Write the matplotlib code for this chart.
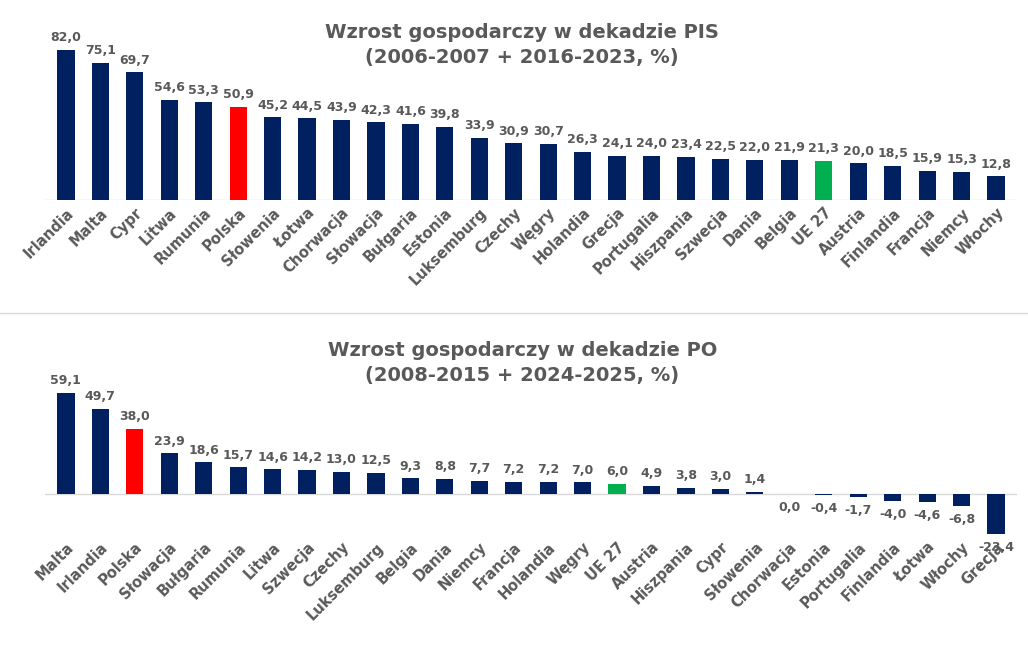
import matplotlib
matplotlib.use("Agg")
import matplotlib.pyplot as plt

top_cats = ["Irlandia","Malta","Cypr","Litwa","Rumunia","Polska","Słowenia","Łotwa","Chorwacja","Słowacja","Bułgaria","Estonia","Luksemburg","Czechy","Węgry","Holandia","Grecja","Portugalia","Hiszpania","Szwecja","Dania","Belgia","UE 27","Austria","Finlandia","Francja","Niemcy","Włochy"]
top_vals = [82.0,75.1,69.7,54.6,53.3,50.9,45.2,44.5,43.9,42.3,41.6,39.8,33.9,30.9,30.7,26.3,24.1,24.0,23.4,22.5,22.0,21.9,21.3,20.0,18.5,15.9,15.3,12.8]
bot_cats = ["Malta","Irlandia","Polska","Słowacja","Bułgaria","Rumunia","Litwa","Szwecja","Czechy","Luksemburg","Belgia","Dania","Niemcy","Francja","Holandia","Węgry","UE 27","Austria","Hiszpania","Cypr","Słowenia","Chorwacja","Estonia","Portugalia","Finlandia","Łotwa","Włochy","Grecja"]
bot_vals = [59.1,49.7,38.0,23.9,18.6,15.7,14.6,14.2,13.0,12.5,9.3,8.8,7.7,7.2,7.2,7.0,6.0,4.9,3.8,3.0,1.4,-0.02,-0.4,-1.7,-4.0,-4.6,-6.8,-23.4]

NAVY = "#002060"; RED = "#FF0000"; GREEN = "#00B050"; GRAY = "#595959"

def color(c):
    return RED if c == "Polska" else GREEN if c == "UE 27" else NAVY

def fmt(v):
    return f"{v:.1f}".replace(".", ",").replace("-0,0", "0,0")

fig = plt.figure(figsize=(10.28, 6.57), dpi=100)

def panel(rect, cats, vals, ylim):
    ax = fig.add_axes(rect)
    x = range(len(cats))
    ax.bar(x, vals, width=0.5, color=[color(c) for c in cats], zorder=2)
    ax.axhline(0, color="#D9D9D9", lw=1, zorder=1)
    ax.set_xlim(-0.6, len(cats) - 0.4)
    ax.set_ylim(*ylim)
    for xi, v in zip(x, vals):
        if v >= 0:
            ax.annotate(fmt(v), (xi, v), xytext=(0, 4), textcoords="offset points",
                        ha="center", va="bottom", fontsize=9, fontweight="bold", color=GRAY)
        else:
            ax.annotate(fmt(v), (xi, v), xytext=(0, -5), textcoords="offset points",
                        ha="center", va="top", fontsize=9, fontweight="bold", color=GRAY)
    ax.set_xticks(list(x))
    ax.set_xticklabels(cats, rotation=45, ha="right", rotation_mode="anchor",
                       fontsize=10.5, fontweight="bold", color=GRAY)
    ax.tick_params(axis="x", length=0, pad=4)
    ax.set_yticks([])
    for s in ax.spines.values():
        s.set_visible(False)
    return ax

panel([0.044, 0.696, 0.945, 0.228], top_cats, top_vals, (0, 82.0))
panel([0.044, 0.187, 0.945, 0.215], bot_cats, bot_vals, (-23.4, 59.1))

fig.text(0.508, 1 - 45/657, "Wzrost gospodarczy w dekadzie PIS\n(2006-2007 + 2016-2023, %)",
         ha="center", va="center", fontsize=14, fontweight="bold", color=GRAY, linespacing=1.45)
fig.text(0.508, 1 - 363/657, "Wzrost gospodarczy w dekadzie PO\n(2008-2015 + 2024-2025, %)",
         ha="center", va="center", fontsize=14, fontweight="bold", color=GRAY, linespacing=1.45)
fig.add_artist(plt.Line2D([0, 1], [1 - 313/657] * 2, color="#D9D9D9", lw=1))

fig.savefig("out.png", dpi=100, facecolor="white")
